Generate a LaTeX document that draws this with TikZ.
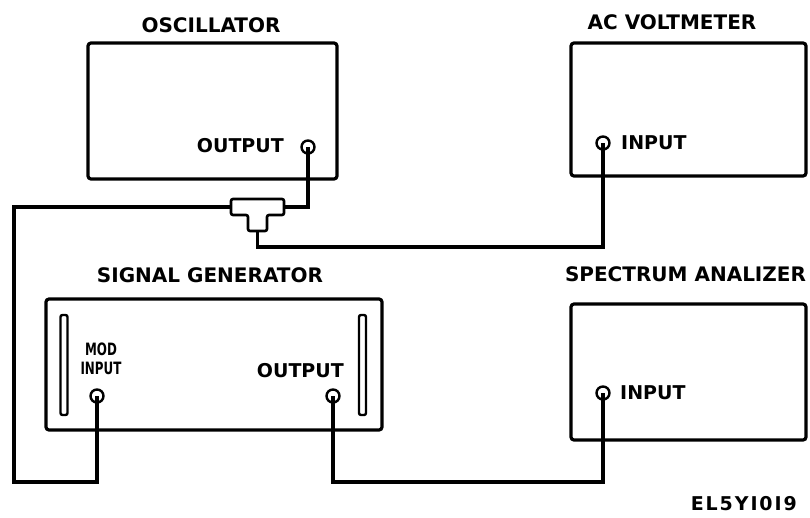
\documentclass[tikz,border=0pt]{standalone}
\usepackage{fontspec}
\setsansfont{DejaVu Sans}
\usepackage{tikz}

\begin{document}
\begin{tikzpicture}[x=1pt, y=-1pt, every node/.style={font=\sffamily\bfseries\fontsize{19}{21}\selectfont}]
    \tikzset{unit/.style={rectangle, draw, line width=3.2pt, rounded corners=3pt, inner sep=0pt},
             title/.style={inner sep=0pt, font=\sffamily\bfseries\fontsize{20}{22}\selectfont},
             lbl/.style={inner sep=0pt},
             jack/.style={circle, draw, line width=2.4pt, minimum size=13pt, inner sep=0pt},
             bar/.style={draw, line width=2.4pt, rounded corners=2pt, minimum width=7pt, minimum height=100pt, inner sep=0pt},
             wire/.style={line width=3.2pt}}

    \useasboundingbox (0,0) rectangle (810,517);

    % instruments
    \node[unit, minimum width=249pt, minimum height=136pt] (osc) at (212.5,111) {};
    \node[unit, minimum width=235pt, minimum height=133pt] (acv) at (688.5,109.5) {};
    \node[unit, minimum width=336pt, minimum height=131pt] (sg) at (214,364.5) {};
    \node[unit, minimum width=235pt, minimum height=136pt] (sa) at (688.5,372) {};

    \node[title] (osct) at (211,25) {OSCILLATOR};
    \node[title] (acvt) at (672,22.5) {AC VOLTMETER};
    \node[title] (sgt) at (210,275) {SIGNAL GENERATOR};
    \node[title] (sat) at (685.5,274.5) {SPECTRUM ANALIZER};

    \node[bar] (lbar) at (64,365) {};
    \node[bar] (rbar) at (362.5,365) {};

    % jacks
    \node[jack] (oscout) at (308,147) {};
    \node[jack] (acvin) at (603,143) {};
    \node[jack] (modin) at (97,396) {};
    \node[jack] (sgout) at (333,396) {};
    \node[jack] (sain) at (603,393) {};

    \node[lbl, anchor=east] (oscoutl) at (284,146) {OUTPUT};
    \node[lbl, anchor=west] (acvinl) at (621,143) {INPUT};
    \node[lbl, anchor=west] (sainl) at (620,393) {INPUT};
    \node[lbl, anchor=east] (sgoutl) at (344,371) {OUTPUT};
    \node[lbl, align=center, font=\sffamily\bfseries\fontsize{17}{19}\selectfont] (modinl) at (101,359)
        {\scalebox{0.7}[1]{MOD}\\\scalebox{0.7}[1]{INPUT}};

    % tee connector
    \coordinate (tl) at (231,207);
    \coordinate (tr) at (284,207);
    \coordinate (tb) at (257.5,231);
    \draw[line width=2.6pt, rounded corners=2pt] (231,199) -- (284,199) -- (284,215) -- (267,215)
        -- (267,231) -- (248,231) -- (248,215) -- (231,215) -- cycle;

    % cables
    \draw[wire] (oscout.center) |- (tr);
    \draw[wire] (tb) -- ++(0,16) -| (acvin.center);
    \draw[wire] (tl) -| (14,482) -| (modin.center);
    \draw[wire] (sgout.center) -- ++(0,86) -| (sain.center);

    \node[lbl, anchor=east, font=\sffamily\bfseries\fontsize{19}{21}\selectfont\addfontfeature{LetterSpace=10}] (fig) at (797,504) {EL5YI0I9};
\end{tikzpicture}
\end{document}
